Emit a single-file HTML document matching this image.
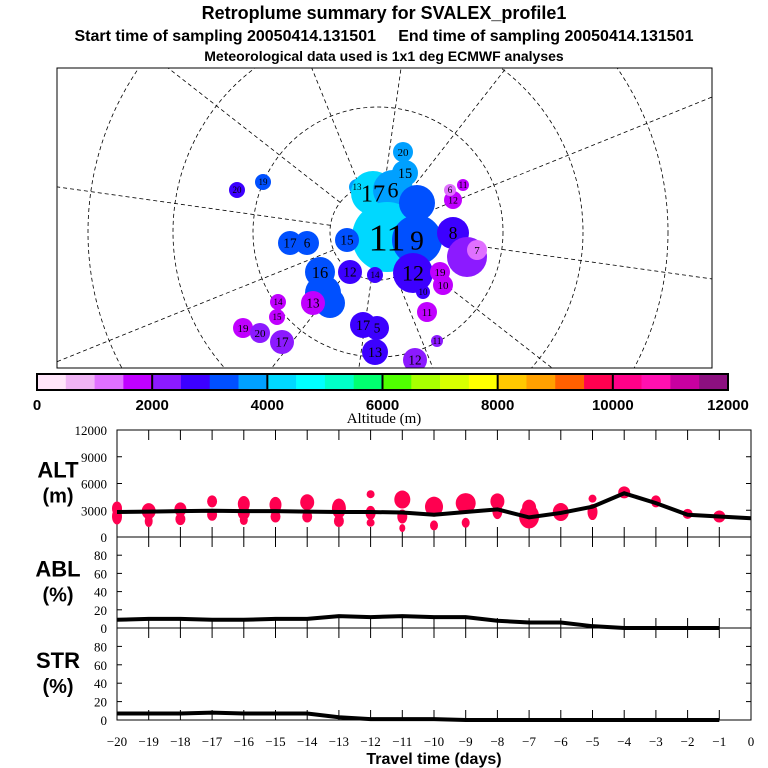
<!DOCTYPE html>
<html><head><meta charset="utf-8"><style>
html,body{margin:0;padding:0;background:#fff;width:768px;height:768px;overflow:hidden;}
svg{display:block;font-family:"Liberation Sans",sans-serif;overflow:hidden;}
.sf{font-family:"Liberation Serif",serif;}
</style></head><body>
<svg id="s" width="768" height="768" viewBox="0 0 768 768">
<text x="384" y="19" text-anchor="middle" font-size="18" font-weight="bold">Retroplume summary for SVALEX_profile1</text>
<text x="384" y="41" text-anchor="middle" font-size="16" font-weight="bold" xml:space="preserve">Start time of sampling 20050414.131501     End time of sampling 20050414.131501</text>
<text x="384" y="61" text-anchor="middle" font-size="14" font-weight="bold">Meteorological data used is 1x1 deg ECMWF analyses</text>
<g id="map"></g>
<g id="cbar"></g>
<g id="panels"></g>
</svg>
<script>
const NS="http://www.w3.org/2000/svg";
function mk(tag,attrs,parent,txt){const e=document.createElementNS(NS,tag);for(const k in attrs)e.setAttribute(k,attrs[k]);if(txt!==undefined)e.textContent=txt;parent.appendChild(e);return e;}
const colors=["#ffe6fa","#f0b4f5","#e070ff","#c000ff","#8c1aff","#3c00ff","#0050ff","#00a0ff","#00d8ff","#00ffff","#00ffc8","#00ff70","#50ff00","#a8ff00","#d8ff00","#ffff00","#ffc800","#ffa000","#ff6000","#ff0050","#ff0088","#ff10b0","#c800a0","#8c1080"];
const cbarTicks=[0,2000,4000,6000,8000,10000,12000];

const plumeX=[403,405,357,373,393,387,417,417,453,467,413,440,443,423,427,437,415,375,363,377,375,350,320,323,330,313,347,290,307,263,237,278,277,243,260,282,453,450,463,477];
const plumeY=[152,173,187,193,190,237,203,240,233,257,273,272,285,292,312,341,360,352,325,328,275,272,272,293,303,303,240,243,243,182,190,302,317,328,333,342,200,190,185,250];
const plumeR=[10,13,8,22,20,35,18,25,16,20,20,10,10,7,10,6,12,13,13,12,8,12,15,18,15,12,12,12,12,8,8,8,8,10,10,12,9,6,6,10];
const plumeC=[7,7,7,8,7,8,6,6,5,4,5,3,3,5,3,4,4,5,5,5,5,5,6,6,6,3,6,6,6,6,5,3,3,3,4,4,3,2,3,2];
const plumeL=["20","15","13","17","6","11","","9","8","","12","19","10","10","11","11","12","13","17","5","14","12","16","","","13","15","17","6","19","20","14","15","19","20","17","12","6","11","7"];

const map=document.getElementById('map');
const MX0=57,MY0=68,MX1=712,MY1=368;
const cp=mk('clipPath',{id:'mc'},map);mk('rect',{x:MX0,y:MY0,width:MX1-MX0,height:MY1-MY0},cp);
const mg=mk('g',{'clip-path':'url(#mc)'},map);
const px=378,py=232;
[48,125,205,290].forEach(r=>{const c=mk('circle',{cx:px,cy:py,r:r,fill:'none',stroke:'#000','stroke-width':0.8,'stroke-dasharray':'4,3'},mg);});
for(let a=0;a<360;a+=30){const t=(a+8)*Math.PI/180;const dx=Math.cos(t),dy=Math.sin(t);
 let L=1e9;if(dx>0)L=Math.min(L,(MX1-px)/dx);if(dx<0)L=Math.min(L,(MX0-px)/dx);if(dy>0)L=Math.min(L,(MY1-py)/dy);if(dy<0)L=Math.min(L,(MY0-py)/dy);
 const l=mk('line',{x1:px+48*dx,y1:py+48*dy,x2:px+L*dx,y2:py+L*dy,stroke:'#000','stroke-width':0.8,'stroke-dasharray':'4,3'},mg);}
for(let i=0;i<plumeX.length;i++){
 const c=mk('circle',{cx:plumeX[i],cy:plumeY[i],r:plumeR[i],fill:colors[plumeC[i]]},mg);
 
 
}
for(let i=0;i<plumeX.length;i++){if(!plumeL[i])continue;
 const fs=Math.max(9,Math.min(40,plumeR[i]*1.1));
 const t=mk('text',{x:plumeX[i],y:plumeY[i]+fs*0.35,'text-anchor':'middle','font-size':fs,class:'sf'},mg,plumeL[i]);
 
 
}
mk('rect',{x:MX0,y:MY0,width:MX1-MX0,height:MY1-MY0,fill:'none',stroke:'#000','stroke-width':1},map);

const cb=document.getElementById('cbar');const cx0=37,cx1=728,cw=(cx1-cx0)/colors.length;
colors.forEach((c,i)=>{const r=mk('rect',{x:cx0+i*cw,y:374,width:cw+0.3,height:16,fill:c},cb);});
mk('rect',{x:cx0,y:374,width:cx1-cx0,height:16,fill:'none',stroke:'#000','stroke-width':2},cb);
cbarTicks.forEach((v,i)=>{const x=cx0+v/12000*(cx1-cx0);if(i>0&&i<6)mk('line',{x1:x,y1:374,x2:x,y2:390,stroke:'#000','stroke-width':2},cb);
 const t=mk('text',{x:x,y:410,'text-anchor':'middle','font-size':15,'font-weight':'bold'},cb,v);});
const at=mk('text',{x:384,y:423,'text-anchor':'middle','font-size':15,class:'sf'},cb,'Altitude (m)');

const days=[-20,-19,-18,-17,-16,-15,-14,-13,-12,-11,-10,-9,-8,-7,-6,-5,-4,-3,-2,-1,0];
const altLine=[2800,2850,2900,2950,2900,2900,2850,2800,2800,2750,2500,2800,3100,2200,2700,3400,4900,3800,2500,2300,2100];
const ablLine=[9,10,10,9,9,10,10,13,12,13,12,12,8,6,6,2,0,0,0,0,0];
const strLine=[7,7,7,8,7,7,7,3,1,1,1,0,0,0,0,0,0,0,0,0,0];
const blobDay=[-20,-20,-19,-19,-18,-18,-17,-17,-16,-16,-16,-15,-15,-14,-14,-13,-13,-12,-12,-12,-11,-11,-11,-10,-10,-9,-9,-8,-8,-7,-7,-6,-5,-5,-4,-3,-2,-1];
const blobAlt=[3200,2300,2900,1800,3100,2000,4000,2500,3700,2700,1900,3600,2300,3900,2300,3200,1800,4800,2700,1600,4200,2300,1000,3400,1300,3800,1600,4000,2900,2300,3300,2800,4300,2800,5000,4000,2600,2300];
const blobRx=[5,5,7,4,6,5,5,5,6,6,4,6,5,7,5,7,5,4,5,4,8,5,3,9,4,10,4,7,5,10,7,8,4,5,6,5,5,6];
const blobRy=[7,8,8,6,7,6,6,6,8,7,5,8,6,8,6,10,6,4,7,4,9,7,4,10,5,10,5,8,8,12,8,9,4,8,6,6,5,6];

const P=document.getElementById('panels');const X0=117,X1=751;
const xs=d=>X0+(d+20)/20*(X1-X0);
function panel(name,top,bot,ymax,ticks,label1,label2){
 const ys=v=>bot-v/ymax*(bot-top);
 const g=mk('g',{},P);
 mk('rect',{x:X0,y:top,width:X1-X0,height:bot-top,fill:'none',stroke:'#000','stroke-width':1},g);
 ticks.forEach(v=>{const y=ys(v);mk('line',{x1:X0,y1:y,x2:X0+5,y2:y,stroke:'#000'},g);mk('line',{x1:X1-5,y1:y,x2:X1,y2:y,stroke:'#000'},g);
  const t=mk('text',{x:X0-10,y:y+5,'text-anchor':'end','font-size':13,class:'sf'},g,v);});
 days.forEach(d=>{const x=xs(d);mk('line',{x1:x,y1:top,x2:x,y2:top+10,stroke:'#000'},g);mk('line',{x1:x,y1:bot-10,x2:x,y2:bot,stroke:'#000'},g);});
 const a=mk('text',{x:58,y:(top+bot)/2-6,'text-anchor':'middle','font-size':22,'font-weight':'bold'},g,label1);
 const b=mk('text',{x:58,y:(top+bot)/2+19,'text-anchor':'middle','font-size':20,'font-weight':'bold'},g,label2);
 return {g,ys};
}
const alt=panel('alt',430,537,12000,[0,3000,6000,9000,12000],'ALT','(m)');
for(let i=0;i<blobDay.length;i++){const e=mk('ellipse',{cx:xs(blobDay[i]),cy:alt.ys(blobAlt[i]),rx:blobRx[i],ry:blobRy[i],fill:'#ff0050'},alt.g);}
const la=mk('polyline',{points:days.map((d,i)=>xs(d)+','+alt.ys(altLine[i])).join(' '),fill:'none',stroke:'#000','stroke-width':4},alt.g);
const abl=panel('abl',537,628,100,[0,20,40,60,80],'ABL','(%)');
const lb=mk('polyline',{points:days.slice(0,20).map((d,i)=>xs(d)+','+abl.ys(ablLine[i])).join(' '),fill:'none',stroke:'#000','stroke-width':4},abl.g);
const str=panel('str',628,720,100,[0,20,40,60,80],'STR','(%)');
const lc=mk('polyline',{points:days.slice(0,20).map((d,i)=>xs(d)+','+str.ys(strLine[i])).join(' '),fill:'none',stroke:'#000','stroke-width':4},str.g);
days.forEach(d=>{const t=mk('text',{x:xs(d),y:746,'text-anchor':'middle','font-size':13,class:'sf'},P,d===0?'0':'\u2212'+(-d));});
const xt=mk('text',{x:434,y:764,'text-anchor':'middle','font-size':16,'font-weight':'bold'},P,'Travel time (days)');
</script>
</body></html>
